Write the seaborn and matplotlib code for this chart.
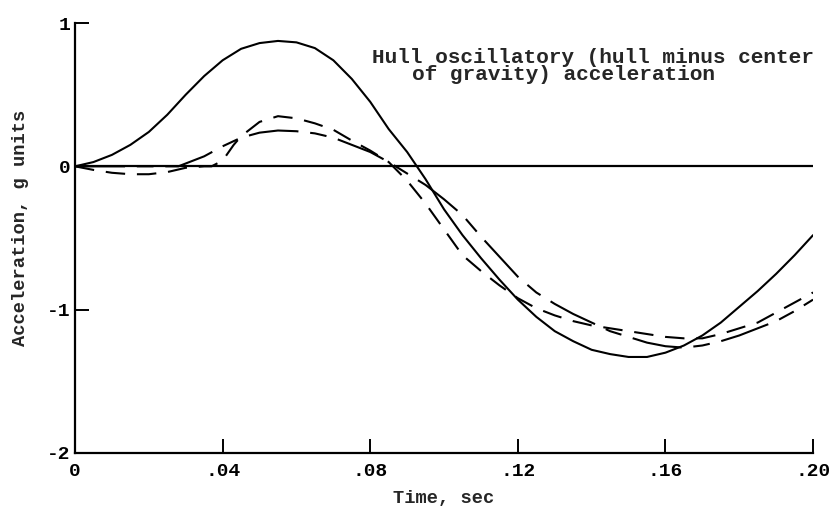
import matplotlib
matplotlib.use("Agg")
import matplotlib.pyplot as plt
import seaborn as sns
import pandas as pd

# ---------------- data ----------------
time_solid = [0.000, 0.005, 0.010, 0.015, 0.020, 0.025, 0.030, 0.035, 0.040, 0.045,
              0.050, 0.055, 0.060, 0.065, 0.070, 0.075, 0.080, 0.085, 0.090, 0.095,
              0.100, 0.105, 0.110, 0.115, 0.120, 0.125, 0.130, 0.135, 0.140, 0.145,
              0.150, 0.155, 0.160, 0.165, 0.170, 0.175, 0.180, 0.185, 0.190, 0.195, 0.200]
accel_solid = [0.00, 0.03, 0.08, 0.15, 0.24, 0.36, 0.50, 0.63, 0.74, 0.82,
               0.86, 0.875, 0.865, 0.825, 0.74, 0.61, 0.45, 0.26, 0.10, -0.09,
               -0.30, -0.48, -0.64, -0.79, -0.93, -1.05, -1.15, -1.22, -1.28, -1.31,
               -1.33, -1.33, -1.30, -1.25, -1.18, -1.09, -0.98, -0.87, -0.75, -0.62, -0.48]

time_longdash = [0.000, 0.010, 0.020, 0.028, 0.030, 0.035, 0.040, 0.045, 0.050, 0.055,
                 0.060, 0.065, 0.070, 0.075, 0.080, 0.085, 0.090, 0.095, 0.100, 0.105,
                 0.110, 0.115, 0.120, 0.125, 0.130, 0.135, 0.140, 0.145, 0.150, 0.155,
                 0.160, 0.165, 0.170, 0.175, 0.180, 0.185, 0.190, 0.195, 0.200]
accel_longdash = [0.00, 0.00, 0.00, 0.00, 0.02, 0.07, 0.14, 0.20, 0.235, 0.25,
                  0.245, 0.23, 0.20, 0.15, 0.10, 0.03, -0.05, -0.13, -0.23, -0.34,
                  -0.49, -0.63, -0.77, -0.88, -0.96, -1.03, -1.09, -1.15, -1.19, -1.23,
                  -1.255, -1.265, -1.25, -1.22, -1.18, -1.13, -1.08, -1.01, -0.93]

time_dash = [0.000, 0.005, 0.010, 0.015, 0.020, 0.025, 0.030, 0.035, 0.037, 0.040,
             0.043, 0.045, 0.050, 0.055, 0.060, 0.065, 0.070, 0.075, 0.080, 0.085,
             0.090, 0.095, 0.100, 0.105, 0.110, 0.115, 0.120, 0.125, 0.130, 0.135,
             0.140, 0.145, 0.150, 0.155, 0.160, 0.165, 0.170, 0.175, 0.180, 0.185,
             0.190, 0.195, 0.200]
accel_dash = [0.00, -0.025, -0.045, -0.055, -0.055, -0.04, -0.01, 0.00, 0.00, 0.04,
              0.15, 0.21, 0.31, 0.35, 0.335, 0.30, 0.255, 0.18, 0.11, 0.03,
              -0.10, -0.26, -0.44, -0.62, -0.73, -0.83, -0.92, -0.99, -1.04, -1.08,
              -1.11, -1.13, -1.15, -1.17, -1.19, -1.20, -1.20, -1.17, -1.13, -1.09,
              -1.02, -0.95, -0.88]

x_ticks = [0.0, 0.04, 0.08, 0.12, 0.16, 0.20]
x_tick_labels = ["0", ".04", ".08", ".12", ".16", ".20"]
y_ticks = [-2, -1, 0, 1]
y_tick_labels = ["-2", "-1", "0", "1"]

annotation_line1 = "Hull oscillatory (hull minus center"
annotation_line2 = "of gravity) acceleration"

# ---------------- style ----------------
sns.set_style("ticks")
plt.rcParams["font.family"] = ["Liberation Mono", "DejaVu Sans Mono"]
plt.rcParams["lines.scale_dashes"] = False

fig = plt.figure(figsize=(8.30, 5.16), dpi=100)
ax = fig.add_axes([0.0904, 0.1221, 0.8892, 0.8333])

df_solid = pd.DataFrame({"t": time_solid, "a": accel_solid})
df_long = pd.DataFrame({"t": time_longdash, "a": accel_longdash})
df_dash = pd.DataFrame({"t": time_dash, "a": accel_dash})

lw = 1.5
ax.axhline(0, color="black", lw=1.6, zorder=1)
sns.lineplot(data=df_solid, x="t", y="a", ax=ax, color="black", lw=lw, zorder=3)
sns.lineplot(data=df_long, x="t", y="a", ax=ax, color="black", lw=lw,
             linestyle=(0, (36, 8.5, 12, 8.5)), zorder=3)
sns.lineplot(data=df_dash, x="t", y="a", ax=ax, color="black", lw=lw,
             linestyle=(0, (14, 8.5)), zorder=3)

ax.set_xlim(0, 0.20)
ax.set_ylim(-2, 1)
ax.set_xticks(x_ticks)
ax.set_xticklabels(x_tick_labels)
ax.set_yticks(y_ticks)
ax.set_yticklabels(y_tick_labels)

for side in ["top", "right"]:
    ax.spines[side].set_visible(False)
for side in ["left", "bottom"]:
    ax.spines[side].set_linewidth(1.6)
    ax.spines[side].set_color("black")

ax.tick_params(axis="both", which="major", direction="in", length=10, width=1.4,
               colors="black", labelsize=14, bottom=True, left=True,
               top=False, right=False)
ax.tick_params(axis="x", pad=7)
ax.tick_params(axis="y", pad=3)
for lab in ax.get_xticklabels() + ax.get_yticklabels():
    lab.set_fontweight("bold")

ax.set_xlabel("Time, sec", fontsize=13.5, fontweight="bold")
ax.set_ylabel("Acceleration, g units", fontsize=13.5, fontweight="bold")
ax.xaxis.set_label_coords(0.5, -0.085)
ax.yaxis.set_label_coords(-0.062, 0.523)

ax.text(0.0805, 0.72, annotation_line1, fontsize=15.2, fontweight="bold",
        ha="left", va="baseline")
ax.text(0.0913, 0.60, annotation_line2, fontsize=15.2, fontweight="bold",
        ha="left", va="baseline")

fig.savefig("out.png", dpi=100)
